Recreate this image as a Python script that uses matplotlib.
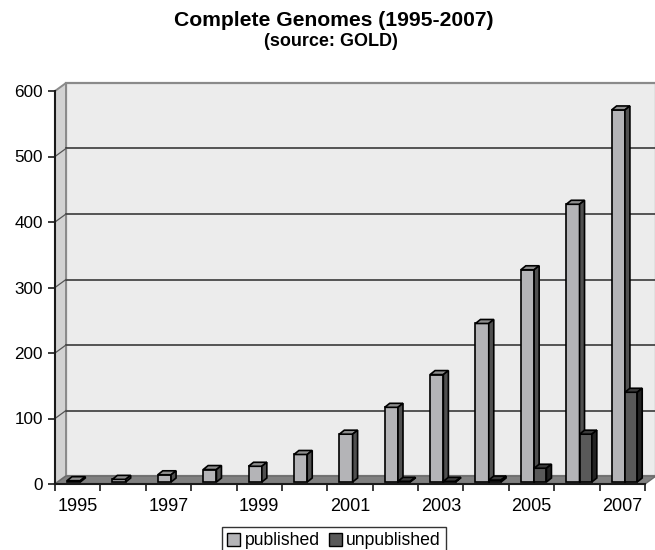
import matplotlib
matplotlib.use('Agg')
import matplotlib.pyplot as plt
from matplotlib.patches import Polygon, Patch
import numpy as np

years = list(range(1995, 2008))
published = [2, 4, 11, 19, 24, 42, 73, 114, 164, 242, 324, 424, 568]
unpublished = [0, 0, 0, 0, 0, 0, 0, 1, 1, 3, 21, 73, 137]
x_labels = ['1995', '', '1997', '', '1999', '', '2001', '', '2003', '', '2005', '', '2007']
y_ticks = [0, 100, 200, 300, 400, 500, 600]
series_names = ['published', 'unpublished']

plt.rcParams['font.family'] = ['Liberation Sans', 'DejaVu Sans']

W, H = 655, 550
fig = plt.figure(figsize=(W / 100, H / 100), dpi=100)
L, R, T, B = 55, 645, 91, 484
ax = fig.add_axes([L / W, 1 - B / H, (R - L) / W, (B - T) / H])
n = len(years)
xs = np.arange(n)
ymax = y_ticks[-1]
ax.set_xlim(-0.5, n - 0.5)
ax.set_ylim(0, ymax)
ax.patch.set_visible(False)

sx = (R - L) / n
sy = (B - T) / ymax
def ux(p):
    return p / sx
def uy(p):
    return p / sy

# wall depth offset
ddx, ddy = ux(11), uy(8)
x0w, x1w = -0.5, n - 0.5

wall_edge = '#8a8a8a'
# back wall
ax.add_patch(Polygon([(x0w + ddx, ddy), (x1w + ddx, ddy), (x1w + ddx, ymax + ddy), (x0w + ddx, ymax + ddy)],
                     closed=True, facecolor='#ececec', edgecolor=wall_edge, lw=1.6, zorder=0.5, clip_on=False))
# side wall
ax.add_patch(Polygon([(x0w, 0), (x0w, ymax), (x0w + ddx, ymax + ddy), (x0w + ddx, ddy)],
                     closed=True, facecolor='#d2d2d2', edgecolor=wall_edge, lw=1.4, zorder=0.55, clip_on=False))
# gridlines
for v in y_ticks[1:-1]:
    ax.plot([x0w + ddx, x1w + ddx], [v + ddy, v + ddy], color='#2a2a2a', lw=1.1, zorder=0.6, clip_on=False)
    ax.plot([x0w, x0w + ddx], [v, v + ddy], color='#555555', lw=0.9, zorder=0.6, clip_on=False)
# floor
ax.add_patch(Polygon([(x0w, 0), (x1w, 0), (x1w + ddx, ddy), (x0w + ddx, ddy)],
                     closed=True, facecolor='#808080', edgecolor='#6a6a6a', lw=1.0, zorder=0.7, clip_on=False))

# bars
base = uy(2)
w1 = ux(13.3)
w2 = ux(12.3)
bdx, bdy = ux(5), uy(4)
pub_cols = ('#b4b4b7', '#8e8e8e', '#505050')
unp_cols = ('#595959', '#3a3a3a', '#222222')

def draw_box(x0, w, h, cols, z):
    if h <= 0:
        return
    cf, ct, cs = cols
    ax.bar(x0, h, width=w, bottom=base, align='edge', color=cf, edgecolor='black', lw=1.2, zorder=z)
    top = base + h
    ax.add_patch(Polygon([(x0, top), (x0 + w, top), (x0 + w + bdx, top + bdy), (x0 + bdx, top + bdy)],
                         closed=True, facecolor=ct, edgecolor='black', lw=1.2, zorder=z, joinstyle='miter'))
    ax.add_patch(Polygon([(x0 + w, base), (x0 + w + bdx, base + bdy), (x0 + w + bdx, top + bdy), (x0 + w, top)],
                         closed=True, facecolor=cs, edgecolor='black', lw=1.2, zorder=z, joinstyle='miter'))

for i in range(n):
    xp = xs[i] - 0.5 + ux(12)
    draw_box(xp, w1, published[i], pub_cols, 2 + i * 0.01)
    draw_box(xp + w1, w2, unpublished[i], unp_cols, 2.005 + i * 0.01)

# axes
for s in ['top', 'right']:
    ax.spines[s].set_visible(False)
for s in ['left', 'bottom']:
    ax.spines[s].set_color('#1a1a1a')
    ax.spines[s].set_linewidth(1.5)
    ax.spines[s].set_zorder(3)

ax.set_yticks(y_ticks)
ax.set_yticklabels([str(v) for v in y_ticks])
ax.tick_params(axis='y', length=5, width=1.2, pad=3.6, labelsize=12.3, color='#1a1a1a')
ax.set_xticks(xs)
ax.set_xticklabels(x_labels)
ax.set_xticks(np.arange(-0.5, n, 1.0), minor=True)
ax.tick_params(axis='x', which='major', length=0, pad=10, labelsize=13)
ax.tick_params(axis='x', which='minor', length=5, width=1.2, color='#1a1a1a')

fig.text(334 / W, 1 - 20 / H, 'Complete Genomes (1995-2007)', ha='center', va='center',
         fontsize=15.2, fontweight='bold')
fig.text(330.5 / W, 1 - 41.5 / H, '(source: GOLD)', ha='center', va='center',
         fontsize=13, fontweight='bold')

handles = [Patch(facecolor=pub_cols[0], edgecolor='black', lw=1.0),
           Patch(facecolor=unp_cols[0], edgecolor='black', lw=1.0)]
leg = fig.legend(handles, series_names, loc='upper center', bbox_to_anchor=(334 / W, 1 - 527 / H),
                 ncol=2, fontsize=12.7, frameon=True, fancybox=False, edgecolor='black',
                 borderpad=0.3, handlelength=0.75, handleheight=0.75, handletextpad=0.25,
                 columnspacing=0.5, borderaxespad=0)
leg.get_frame().set_linewidth(1.0)

fig.savefig('out.png', dpi=100)
